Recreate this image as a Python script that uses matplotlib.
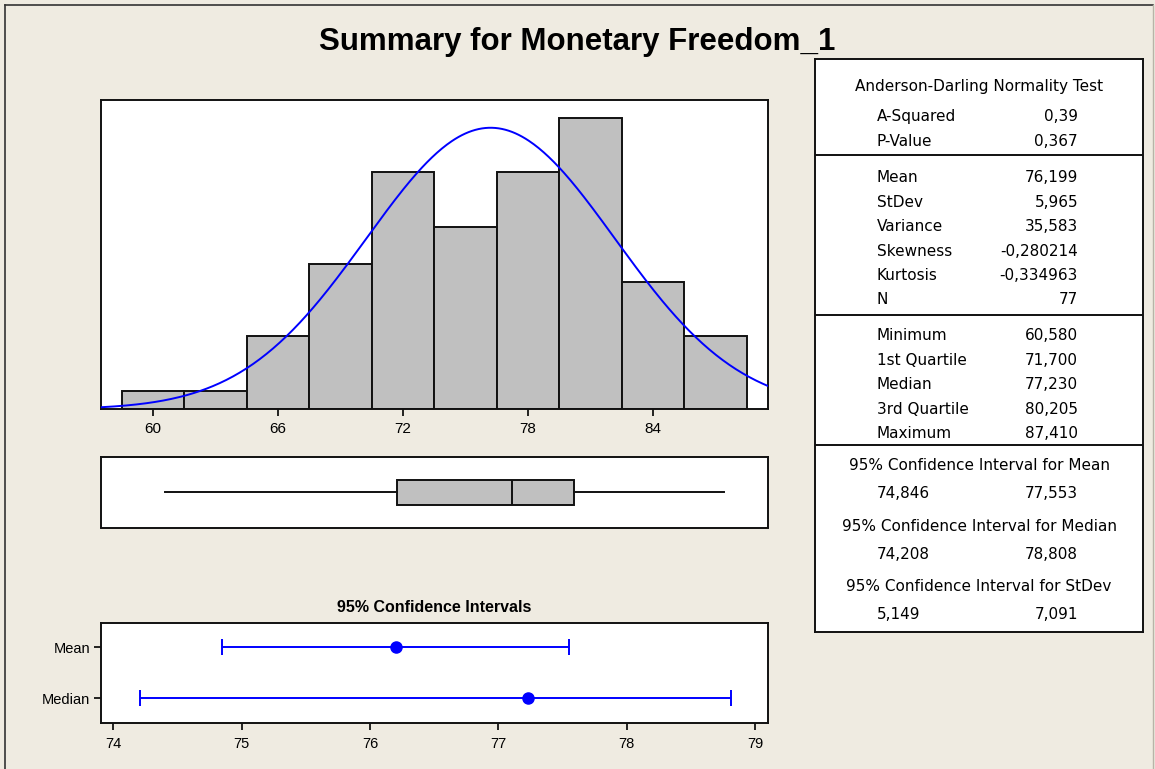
import numpy as np
import matplotlib
matplotlib.use("Agg")
import matplotlib.pyplot as plt
from matplotlib.lines import Line2D

plt.rcParams['font.family'] = ['Liberation Sans', 'DejaVu Sans']

# histogram data
bin_edges = [58.5, 61.5, 64.5, 67.5, 70.5, 73.5, 76.5, 79.5, 82.5, 85.5, 88.5]
counts = [1, 1, 4, 8, 13, 10, 13, 16, 7, 4]
hist_ticks = [60, 66, 72, 78, 84]

# summary statistics
mean_val = 76.199
sd_val = 5.965
n_obs = 77

ad_labels = ["A-Squared", "P-Value"]
ad_values = ["0,39", "0,367"]
desc_labels = ["Mean", "StDev", "Variance", "Skewness", "Kurtosis", "N"]
desc_values = ["76,199", "5,965", "35,583", "-0,280214", "-0,334963", "77"]
quart_labels = ["Minimum", "1st Quartile", "Median", "3rd Quartile", "Maximum"]
quart_values = [60.580, 71.700, 77.230, 80.205, 87.410]
ci_titles = ["95% Confidence Interval for Mean",
             "95% Confidence Interval for Median",
             "95% Confidence Interval for StDev"]
ci_low = [74.846, 74.208, 5.149]
ci_high = [77.553, 78.808, 7.091]
ci_names = ["Mean", "Median"]
ci_ticks = [74, 75, 76, 77, 78, 79]


def fmt(v):
    return f"{v:.3f}".replace(".", ",")


W, H = 1155, 769
BG = '#EFEBE1'


def rect(l, t, r, b):
    # pixel box -> figure fraction
    return [l / W, 1 - b / H, (r - l) / W, (b - t) / H]


fig = plt.figure(figsize=(W / 100, H / 100), dpi=100, facecolor=BG)

# outer frame
fig.add_artist(Line2D([5 / W, 5 / W], [0, 1 - 5 / H], transform=fig.transFigure, color='#333333', lw=1.2))
fig.add_artist(Line2D([5 / W, 1153 / W], [1 - 5 / H, 1 - 5 / H], transform=fig.transFigure, color='#333333', lw=1.2))
fig.add_artist(Line2D([1153 / W, 1153 / W], [0, 1 - 5 / H], transform=fig.transFigure, color='#B8B4A8', lw=1.0))

fig.text(0.5, 1 - 42 / H, "Summary for Monetary Freedom_1", ha='center', va='center',
         fontsize=22.5, fontweight='bold')


def style_axes(ax):
    ax.set_facecolor('white')
    for s in ax.spines.values():
        s.set_linewidth(1.4)
        s.set_color('#111111')


# histogram
ax_h = fig.add_axes(rect(101, 99.5, 767.7, 409.3))
style_axes(ax_h)
ax_h.bar(bin_edges[:-1], counts, width=np.diff(bin_edges), align='edge',
         color='#C0C0C0', edgecolor='#111111', linewidth=1.4, zorder=2)
xs = np.linspace(57.5, 89.5, 400)
bw = bin_edges[1] - bin_edges[0]
pdf = n_obs * bw / (sd_val * np.sqrt(2 * np.pi)) * np.exp(-0.5 * ((xs - mean_val) / sd_val) ** 2)
ax_h.plot(xs, pdf, color='blue', lw=1.4, zorder=3)
ax_h.set_xlim(57.5, 89.5)
ax_h.set_ylim(0, 17)
ax_h.set_xticks(hist_ticks)
ax_h.set_yticks([])
ax_h.tick_params(axis='x', length=5, width=1.2, labelsize=11, pad=4)

# boxplot
ax_b = fig.add_axes(rect(101, 457.3, 767.7, 527.5))
style_axes(ax_b)
ax_b.bxp([{'whislo': quart_values[0], 'q1': quart_values[1], 'med': quart_values[2],
           'q3': quart_values[3], 'whishi': quart_values[4], 'fliers': []}],
         orientation='horizontal', widths=0.36, patch_artist=True, showcaps=False,
         boxprops=dict(facecolor='#C0C0C0', edgecolor='#111111', linewidth=1.4),
         medianprops=dict(color='#111111', linewidth=1.4),
         whiskerprops=dict(color='#111111', linewidth=1.4))
ax_b.set_xlim(57.5, 89.5)
ax_b.set_ylim(0.5, 1.5)
ax_b.set_xticks([])
ax_b.set_yticks([])

# confidence intervals
ax_c = fig.add_axes(rect(101, 623.3, 767.7, 723.3))
style_axes(ax_c)
centers = [mean_val, quart_values[2]]
lo = [c - l for c, l in zip(centers, ci_low[:2])]
hi = [h - c for c, h in zip(centers, ci_high[:2])]
ax_c.errorbar(centers, [0, 1], xerr=[lo, hi], fmt='o', color='blue', ms=8,
              lw=1.4, capsize=6, capthick=1.4)
ax_c.set_xlim(73.904, 79.097)
ax_c.set_ylim(1.49, -0.47)
ax_c.set_xticks(ci_ticks)
ax_c.set_yticks([0, 1])
ax_c.set_yticklabels(ci_names)
ax_c.tick_params(length=5, width=1.2, labelsize=10.5, pad=3)
ax_c.tick_params(axis='x', pad=5)
ax_c.set_title("95% Confidence Intervals", fontsize=11.5, fontweight='bold', pad=8)

# statistics table
T_L, T_T, T_R, T_B = 815, 59.3, 1143.3, 631.7
ax_t = fig.add_axes(rect(T_L, T_T, T_R, T_B))
style_axes(ax_t)
ax_t.set_xlim(T_L, T_R)
ax_t.set_ylim(T_B, T_T)
ax_t.set_xticks([])
ax_t.set_yticks([])
for y in [155.5, 315, 445.5]:
    ax_t.axhline(y, color='#111111', lw=1.4)

x_lab, x_val, x_mid = 877, 1078, (T_L + T_R) / 2
tkw = dict(va='center', fontsize=11, family=['DejaVu Sans'])

ax_t.text(x_mid, 87, "Anderson-Darling Normality Test", ha='center', **tkw)
for i, (lab, val) in enumerate(zip(ad_labels, ad_values)):
    y = 117 + 25 * i
    ax_t.text(x_lab, y, lab, ha='left', **tkw)
    ax_t.text(x_val, y, val, ha='right', **tkw)

for i, (lab, val) in enumerate(zip(desc_labels, desc_values)):
    y = 178 + 24.4 * i
    ax_t.text(x_lab, y, lab, ha='left', **tkw)
    ax_t.text(x_val, y, val, ha='right', **tkw)

for i, (lab, val) in enumerate(zip(quart_labels, quart_values)):
    y = 336 + 24.5 * i
    ax_t.text(x_lab, y, lab, ha='left', **tkw)
    ax_t.text(x_val, y, fmt(val), ha='right', **tkw)

for i, (title, l, h) in enumerate(zip(ci_titles, ci_low, ci_high)):
    y = 466 + 60.5 * i
    ax_t.text(x_mid, y, title, ha='center', **tkw)
    ax_t.text(x_lab, y + 28, fmt(l), ha='left', **tkw)
    ax_t.text(x_val, y + 28, fmt(h), ha='right', **tkw)

fig.savefig("out.png", dpi=100, facecolor=BG)
